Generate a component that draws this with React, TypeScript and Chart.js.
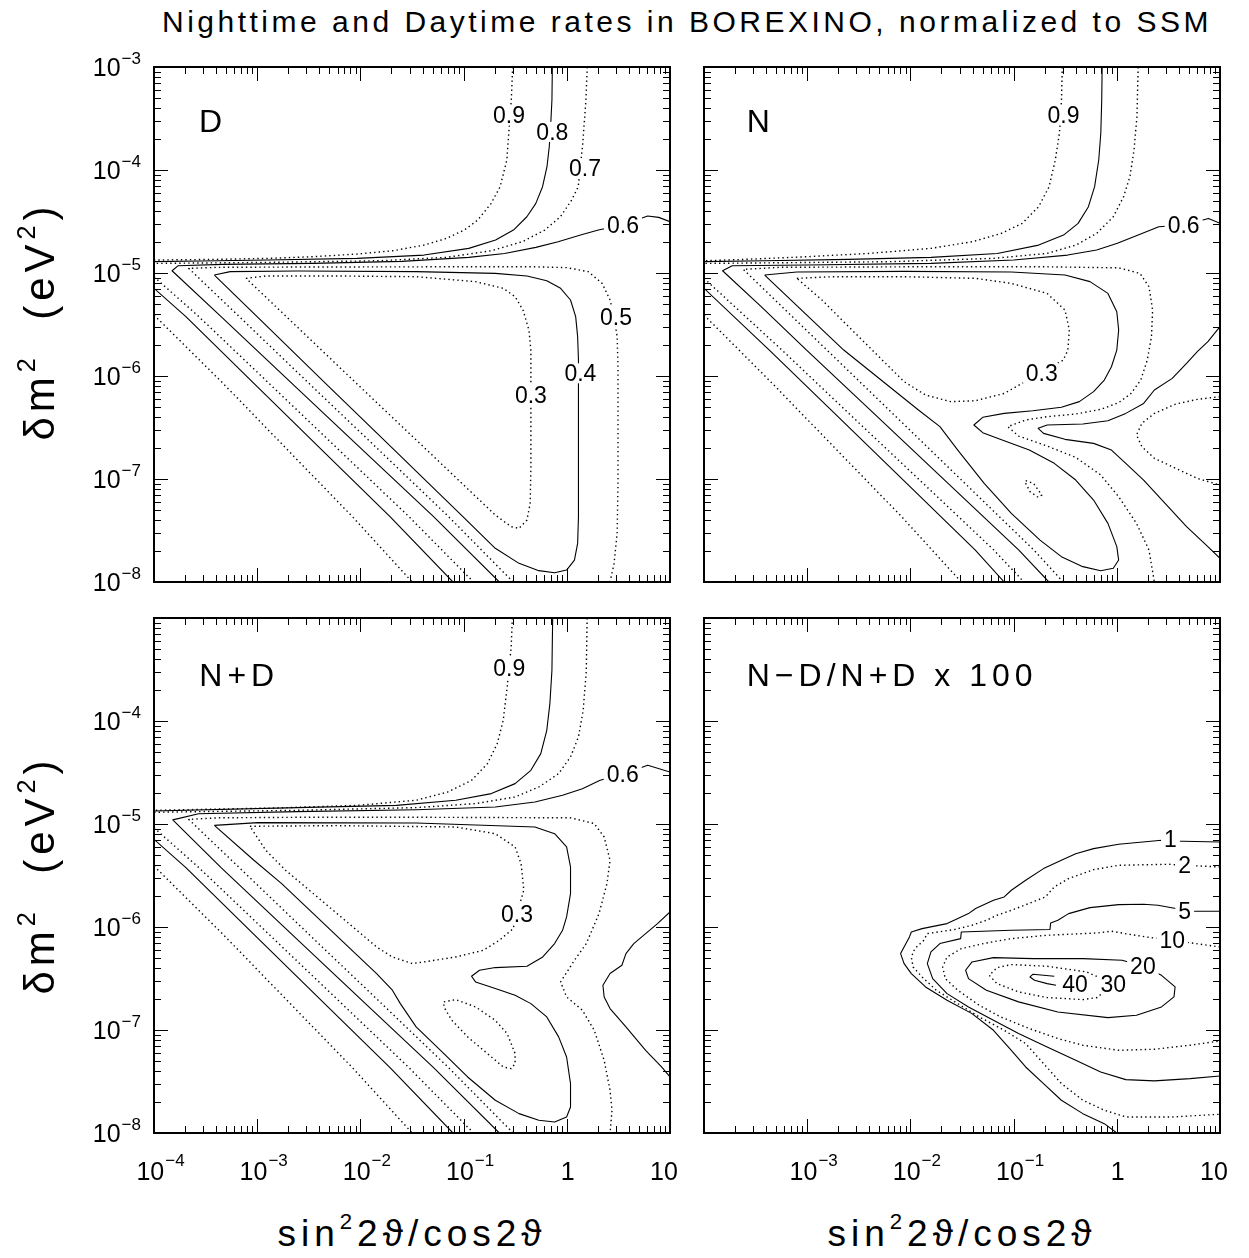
import React, { useEffect, useRef } from "react";
import { Chart, registerables } from "chart.js";

Chart.register(...registerables);

// Every point is [log10(sin^2 2θ / cos 2θ), log10(δm^2 / eV^2)]
type Pt = [number, number];

// ---------------- tick values (log10) ----------------
const X_TICKS_LEFT = [-4, -3, -2, -1, 0, 1];
const X_TICKS_RIGHT = [-3, -2, -1, 0, 1];
const Y_TICKS_TOP = [-3, -4, -5, -6, -7, -8];
const Y_TICKS_BOTTOM = [-4, -5, -6, -7, -8];

// ---------------- Panel D (daytime) ----------------
const D_UP_09: Pt[] = [[-0.525,-3.0],[-0.538,-3.321],[-0.560,-3.612],[-0.581,-3.903],[-0.646,-4.162],[-0.733,-4.324],[-0.863,-4.486],[-0.993,-4.583],[-1.166,-4.664],[-1.383,-4.729],[-1.686,-4.784],[-2.032,-4.816],[-2.465,-4.842],[-2.899,-4.858],[-3.418,-4.868],[-4.0,-4.874]];
const D_UP_08: Pt[] = [[-0.140,-3.0],[-0.144,-3.321],[-0.157,-3.580],[-0.170,-3.774],[-0.192,-3.968],[-0.235,-4.162],[-0.300,-4.324],[-0.387,-4.454],[-0.517,-4.583],[-0.690,-4.680],[-0.950,-4.761],[-1.383,-4.826],[-2.032,-4.858],[-2.899,-4.874],[-3.548,-4.884],[-4.0,-4.890]];
const D_UP_07: Pt[] = [[0.198,-3.0],[0.185,-3.321],[0.155,-3.742],[0.111,-4.162],[0.047,-4.292],[-0.062,-4.454],[-0.213,-4.583],[-0.430,-4.696],[-0.733,-4.784],[-1.166,-4.848],[-1.816,-4.881],[-2.899,-4.897],[-4.0,-4.907]];
const D_06: Pt[] = [[1.0,-4.502],[0.891,-4.460],[0.783,-4.447],[0.545,-4.534],[0.306,-4.583],[0.133,-4.631],[-0.084,-4.696],[-0.300,-4.751],[-0.603,-4.810],[-0.950,-4.848],[-1.599,-4.887],[-2.465,-4.907],[-3.332,-4.916],[-3.765,-4.929],[-3.825,-4.978],[-3.350,-5.424],[-2.664,-6.071],[-1.977,-6.719],[-1.291,-7.366],[-0.654,-8.0]];
const D_05: Pt[] = [[-0.520,-8.0],[-1.145,-7.366],[-1.820,-6.719],[-2.499,-6.071],[-3.173,-5.424],[-3.664,-4.955],[-3.377,-4.945],[-2.610,-4.942],[-1.344,-4.940],[-0.309,-4.940],[-0.002,-4.948],[0.208,-4.987],[0.343,-5.101],[0.419,-5.262],[0.458,-5.424],[0.488,-5.618],[0.496,-5.910],[0.496,-6.395],[0.496,-7.042],[0.488,-7.528],[0.458,-7.819],[0.419,-8.0]];
const D_04: Pt[] = [[-3.415,-5.020],[-3.262,-4.987],[-2.610,-4.981],[-1.460,-4.987],[-0.693,-5.004],[-0.386,-5.029],[-0.194,-5.075],[-0.060,-5.149],[0.036,-5.262],[0.086,-5.424],[0.105,-5.618],[0.113,-5.845],[0.113,-6.719],[0.113,-7.366],[0.105,-7.625],[0.074,-7.787],[-0.002,-7.884],[-0.118,-7.910],[-0.271,-7.890],[-0.463,-7.819],[-0.693,-7.673],[-1.007,-7.366],[-1.670,-6.719],[-2.338,-6.071],[-3.001,-5.424],[-3.415,-5.020]];
const D_03: Pt[] = [[-3.108,-5.052],[-2.917,-5.029],[-2.226,-5.029],[-1.460,-5.036],[-0.884,-5.084],[-0.616,-5.149],[-0.501,-5.230],[-0.424,-5.360],[-0.367,-5.554],[-0.348,-5.748],[-0.348,-6.395],[-0.348,-6.880],[-0.355,-7.237],[-0.386,-7.398],[-0.463,-7.479],[-0.539,-7.463],[-0.693,-7.350],[-1.356,-6.719],[-2.039,-6.071],[-2.717,-5.424],[-3.108,-5.052]];
const D_LO_07: Pt[] = [[-4.0,-5.036],[-3.565,-5.424],[-2.886,-6.071],[-2.207,-6.719],[-1.529,-7.366],[-0.904,-8.0]];
const D_LO_08: Pt[] = [[-4.0,-5.149],[-3.691,-5.424],[-3.032,-6.071],[-2.372,-6.719],[-1.713,-7.366],[-1.103,-8.0]];
const D_LO_09: Pt[] = [[-4.0,-5.408],[-3.331,-6.071],[-2.704,-6.719],[-2.077,-7.366],[-1.498,-8.0]];

// ---------------- Panel N (nighttime) ----------------
const N_UP_09: Pt[] = [[-0.528,-3.0],[-0.536,-3.321],[-0.556,-3.644],[-0.596,-3.903],[-0.656,-4.162],[-0.757,-4.356],[-0.917,-4.518],[-1.118,-4.615],[-1.399,-4.696],[-1.800,-4.761],[-2.403,-4.810],[-3.005,-4.842],[-3.607,-4.868],[-4.0,-4.881]];
const N_UP_08: Pt[] = [[-0.142,-3.0],[-0.146,-3.321],[-0.155,-3.644],[-0.175,-3.903],[-0.215,-4.162],[-0.275,-4.356],[-0.375,-4.518],[-0.516,-4.632],[-0.757,-4.729],[-1.158,-4.810],[-1.800,-4.848],[-2.603,-4.868],[-3.406,-4.881],[-4.0,-4.890]];
const N_UP_07: Pt[] = [[0.207,-3.0],[0.195,-3.483],[0.167,-3.806],[0.127,-4.065],[0.066,-4.259],[-0.034,-4.454],[-0.195,-4.615],[-0.395,-4.729],[-0.677,-4.810],[-1.198,-4.858],[-2.202,-4.890],[-3.206,-4.900],[-4.0,-4.907]];
const N_06A: Pt[] = [[1.0,-4.518],[0.889,-4.470],[0.648,-4.534],[0.407,-4.551],[0.207,-4.632],[0.006,-4.712],[-0.195,-4.777],[-0.476,-4.826],[-0.998,-4.874],[-1.800,-4.907],[-3.005,-4.923],[-3.727,-4.929],[-3.820,-4.978],[-3.446,-5.327],[-3.006,-5.748],[-2.321,-6.395],[-1.635,-7.042],[-0.949,-7.690],[-0.658,-8.0]];
const N_06B: Pt[] = [[1.0,-5.521],[0.883,-5.667],[0.780,-5.764],[0.676,-5.877],[0.537,-6.023],[0.364,-6.136],[0.260,-6.266],[0.087,-6.363],[-0.086,-6.434],[-0.329,-6.466],[-0.675,-6.476],[-0.762,-6.508],[-0.710,-6.557],[-0.502,-6.615],[-0.225,-6.654],[-0.052,-6.719],[0.087,-6.848],[0.260,-7.010],[0.468,-7.237],[0.676,-7.463],[0.849,-7.625],[1.0,-7.770]];
const N_07B: Pt[] = [[1.0,-6.201],[0.780,-6.227],[0.572,-6.272],[0.364,-6.363],[0.243,-6.460],[0.191,-6.573],[0.243,-6.686],[0.364,-6.799],[0.572,-6.897],[0.780,-6.994],[1.0,-7.059]];
const N_05: Pt[] = [[-0.519,-8.0],[-0.803,-7.690],[-1.472,-7.042],[-2.140,-6.395],[-2.809,-5.748],[-3.619,-4.965],[-3.273,-4.945],[-2.061,-4.940],[-0.675,-4.940],[0.018,-4.950],[0.225,-5.004],[0.312,-5.133],[0.347,-5.360],[0.336,-5.618],[0.295,-5.845],[0.232,-6.039],[0.139,-6.169],[0.018,-6.259],[-0.156,-6.324],[-0.398,-6.369],[-0.675,-6.395],[-0.883,-6.427],[-1.056,-6.492],[-0.952,-6.583],[-0.675,-6.680],[-0.398,-6.790],[-0.156,-6.961],[0.018,-7.172],[0.191,-7.431],[0.312,-7.690],[0.364,-8.0]];
const N_04: Pt[] = [[-3.412,-5.020],[-3.100,-4.991],[-2.061,-4.984],[-1.022,-4.991],[-0.502,-5.020],[-0.260,-5.084],[-0.086,-5.198],[0.0,-5.376],[0.018,-5.554],[0.0,-5.748],[-0.052,-5.910],[-0.121,-6.039],[-0.225,-6.152],[-0.363,-6.249],[-0.537,-6.304],[-0.814,-6.337],[-1.091,-6.363],[-1.299,-6.401],[-1.385,-6.476],[-1.299,-6.550],[-1.091,-6.628],[-0.848,-6.719],[-0.606,-6.848],[-0.398,-7.010],[-0.225,-7.204],[-0.086,-7.431],[0.0,-7.657],[0.018,-7.787],[-0.034,-7.867],[-0.156,-7.890],[-0.329,-7.851],[-0.537,-7.754],[-0.744,-7.593],[-1.022,-7.334],[-1.285,-7.042],[-1.541,-6.719],[-1.714,-6.492],[-1.922,-6.330],[-2.646,-5.748],[-3.412,-5.020]];
const N_03: Pt[] = [[-3.100,-5.052],[-2.753,-5.036],[-2.061,-5.036],[-1.368,-5.052],[-1.022,-5.101],[-0.675,-5.198],[-0.502,-5.360],[-0.460,-5.554],[-0.474,-5.748],[-0.519,-5.845],[-0.727,-5.974],[-0.918,-6.071],[-1.091,-6.169],[-1.368,-6.240],[-1.610,-6.249],[-1.853,-6.185],[-2.061,-6.055],[-2.338,-5.780],[-2.615,-5.505],[-2.857,-5.262],[-3.100,-5.052]];
const N_03B: Pt[] = [[-0.883,-7.016],[-0.807,-7.042],[-0.727,-7.156],[-0.762,-7.178],[-0.841,-7.123],[-0.883,-7.042],[-0.883,-7.016]];
const N_LO_07: Pt[] = [[-4.0,-5.052],[-3.245,-5.748],[-2.563,-6.395],[-1.877,-7.042],[-1.191,-7.690],[-0.900,-8.0]];
const N_LO_08: Pt[] = [[-4.0,-5.149],[-3.367,-5.748],[-2.702,-6.395],[-2.036,-7.042],[-1.371,-7.690],[-1.091,-8.0]];
const N_LO_09: Pt[] = [[-4.0,-5.408],[-3.339,-6.071],[-2.712,-6.719],[-2.085,-7.366],[-1.507,-8.0]];

// ---------------- Panel N+D ----------------
const ND_UP_09: Pt[] = [[-0.528,-3.0],[-0.539,-3.281],[-0.578,-3.670],[-0.616,-3.993],[-0.674,-4.220],[-0.769,-4.414],[-0.923,-4.576],[-1.153,-4.689],[-1.460,-4.770],[-2.035,-4.819],[-2.802,-4.844],[-4.0,-4.867]];
const ND_UP_08: Pt[] = [[-0.137,-3.0],[-0.144,-3.508],[-0.164,-3.831],[-0.194,-4.090],[-0.252,-4.317],[-0.348,-4.479],[-0.501,-4.608],[-0.731,-4.705],[-1.076,-4.770],[-1.651,-4.819],[-2.610,-4.841],[-4.0,-4.874]];
const ND_UP_07: Pt[] = [[0.197,-3.0],[0.189,-3.508],[0.159,-3.896],[0.113,-4.155],[0.036,-4.349],[-0.079,-4.511],[-0.271,-4.641],[-0.501,-4.738],[-0.884,-4.802],[-1.460,-4.841],[-2.610,-4.867],[-4.0,-4.886]];
const ND_06A: Pt[] = [[1.0,-4.495],[0.784,-4.430],[0.542,-4.518],[0.323,-4.576],[0.151,-4.657],[-0.041,-4.721],[-0.309,-4.786],[-0.693,-4.835],[-1.460,-4.861],[-2.610,-4.880],[-3.568,-4.900],[-3.818,-4.960],[-3.350,-5.424],[-2.664,-6.071],[-1.977,-6.719],[-1.291,-7.366],[-0.654,-8.0]];
const ND_06B: Pt[] = [[1.0,-5.854],[0.879,-5.967],[0.764,-6.064],[0.649,-6.161],[0.573,-6.258],[0.534,-6.371],[0.419,-6.452],[0.350,-6.566],[0.362,-6.679],[0.419,-6.792],[0.573,-6.970],[0.764,-7.197],[0.918,-7.359],[1.0,-7.456]];
const ND_05: Pt[] = [[-0.520,-8.0],[-1.145,-7.366],[-1.820,-6.719],[-2.499,-6.071],[-3.173,-5.424],[-3.664,-4.955],[-3.377,-4.940],[-2.610,-4.935],[-1.344,-4.935],[0.036,-4.940],[0.266,-4.996],[0.362,-5.126],[0.419,-5.353],[0.389,-5.579],[0.312,-5.870],[0.189,-6.161],[0.074,-6.323],[-0.060,-6.533],[-0.002,-6.679],[0.151,-6.808],[0.266,-7.003],[0.362,-7.294],[0.419,-7.585],[0.438,-7.779],[0.419,-8.0]];
const ND_04: Pt[] = [[-3.415,-5.013],[-2.993,-4.987],[-1.460,-4.990],[-0.309,-5.029],[-0.118,-5.094],[-0.002,-5.223],[0.036,-5.417],[0.036,-5.676],[-0.002,-5.902],[-0.041,-6.032],[-0.118,-6.161],[-0.233,-6.291],[-0.386,-6.381],[-0.693,-6.394],[-0.846,-6.420],[-0.923,-6.478],[-0.884,-6.533],[-0.693,-6.598],[-0.501,-6.663],[-0.348,-6.744],[-0.194,-6.873],[-0.079,-7.067],[-0.002,-7.262],[0.036,-7.520],[0.036,-7.747],[-0.002,-7.844],[-0.118,-7.893],[-0.271,-7.876],[-0.463,-7.812],[-0.693,-7.682],[-0.961,-7.456],[-1.191,-7.229],[-1.460,-6.970],[-1.613,-6.744],[-1.690,-6.614],[-1.843,-6.452],[-2.150,-6.161],[-2.456,-5.870],[-2.763,-5.579],[-3.032,-5.352],[-3.415,-5.013]];
const ND_03: Pt[] = [[-3.070,-5.022],[-2.226,-5.016],[-1.076,-5.029],[-0.693,-5.094],[-0.501,-5.223],[-0.443,-5.385],[-0.417,-5.643],[-0.482,-5.870],[-0.520,-6.016],[-0.654,-6.129],[-0.808,-6.226],[-1.076,-6.291],[-1.383,-6.339],[-1.498,-6.355],[-1.690,-6.291],[-1.843,-6.194],[-2.073,-5.999],[-2.303,-5.805],[-2.533,-5.611],[-2.725,-5.449],[-2.917,-5.255],[-3.070,-5.022]];
const ND_03B: Pt[] = [[-1.191,-6.727],[-1.076,-6.705],[-0.884,-6.776],[-0.693,-6.906],[-0.578,-7.035],[-0.501,-7.229],[-0.501,-7.326],[-0.539,-7.375],[-0.616,-7.359],[-0.769,-7.229],[-0.961,-7.067],[-1.114,-6.906],[-1.191,-6.776],[-1.191,-6.727]];
const ND_LO_07: Pt[] = [[-4.0,-5.036],[-3.565,-5.424],[-2.886,-6.071],[-2.207,-6.719],[-1.529,-7.366],[-0.904,-8.0]];
const ND_LO_08: Pt[] = [[-4.0,-5.149],[-3.691,-5.424],[-3.032,-6.071],[-2.372,-6.719],[-1.713,-7.366],[-1.103,-8.0]];
const ND_LO_09: Pt[] = [[-4.0,-5.408],[-3.331,-6.071],[-2.704,-6.719],[-2.077,-7.366],[-1.498,-8.0]];

// ---------------- Panel (N-D)/(N+D) x 100 ----------------
const A_01: Pt[] = [[1.0,-5.175],[0.520,-5.165],[0.433,-5.158],[0.018,-5.197],[-0.225,-5.239],[-0.398,-5.288],[-0.537,-5.353],[-0.710,-5.433],[-0.883,-5.546],[-1.022,-5.643],[-1.091,-5.708],[-1.195,-5.740],[-1.368,-5.821],[-1.437,-5.870],[-1.576,-5.935],[-1.645,-5.967],[-1.887,-6.016],[-1.991,-6.048],[-2.009,-6.096],[-2.043,-6.161],[-2.095,-6.258],[-2.061,-6.355],[-1.991,-6.452],[-1.853,-6.582],[-1.645,-6.711],[-1.403,-6.841],[-1.195,-7.003],[-1.022,-7.197],[-0.883,-7.359],[-0.710,-7.520],[-0.537,-7.682],[-0.329,-7.812],[-0.121,-7.909],[0.0,-8.0]];
const A_02: Pt[] = [[1.0,-5.417],[0.658,-5.401],[0.503,-5.391],[0.018,-5.401],[-0.225,-5.443],[-0.467,-5.530],[-0.606,-5.611],[-0.692,-5.708],[-0.814,-5.757],[-1.022,-5.838],[-1.160,-5.886],[-1.264,-5.935],[-1.403,-5.983],[-1.576,-6.025],[-1.836,-6.064],[-1.870,-6.129],[-1.957,-6.210],[-1.991,-6.291],[-1.974,-6.388],[-1.887,-6.485],[-1.749,-6.614],[-1.541,-6.744],[-1.333,-6.873],[-1.091,-7.003],[-0.883,-7.132],[-0.710,-7.326],[-0.537,-7.520],[-0.329,-7.682],[-0.121,-7.779],[0.087,-7.844],[0.537,-7.844],[1.0,-7.818]];
const A_05: Pt[] = [[1.0,-5.847],[0.658,-5.847],[0.572,-5.821],[0.399,-5.789],[0.260,-5.779],[0.018,-5.783],[-0.260,-5.812],[-0.467,-5.870],[-0.571,-5.935],[-0.641,-5.961],[-0.648,-6.025],[-1.022,-6.032],[-1.507,-6.048],[-1.513,-6.113],[-1.714,-6.161],[-1.801,-6.242],[-1.836,-6.355],[-1.784,-6.501],[-1.645,-6.647],[-1.437,-6.776],[-1.195,-6.906],[-0.952,-7.035],[-0.675,-7.164],[-0.398,-7.294],[-0.156,-7.407],[0.087,-7.482],[0.364,-7.494],[0.710,-7.472],[1.0,-7.446]];
const A_10: Pt[] = [[1.0,-6.194],[0.537,-6.129],[0.329,-6.103],[0.121,-6.071],[-0.052,-6.041],[-0.190,-6.058],[-0.675,-6.080],[-1.022,-6.113],[-1.264,-6.155],[-1.507,-6.210],[-1.645,-6.291],[-1.687,-6.388],[-1.662,-6.501],[-1.541,-6.614],[-1.333,-6.760],[-1.126,-6.873],[-0.848,-6.986],[-0.571,-7.083],[-0.329,-7.148],[0.018,-7.197],[0.364,-7.187],[0.710,-7.148],[1.0,-7.106]];
const A_20: Pt[] = [[0.253,-6.381],[0.052,-6.323],[-0.329,-6.307],[-0.814,-6.307],[-1.195,-6.297],[-1.403,-6.339],[-1.465,-6.420],[-1.437,-6.501],[-1.264,-6.614],[-0.952,-6.727],[-0.571,-6.825],[-0.086,-6.880],[0.191,-6.857],[0.433,-6.776],[0.554,-6.679],[0.565,-6.582],[0.433,-6.469],[0.253,-6.381]];
const A_30: Pt[] = [[-0.034,-6.550],[-0.294,-6.436],[-0.675,-6.381],[-1.022,-6.365],[-1.160,-6.394],[-1.236,-6.469],[-1.160,-6.550],[-0.952,-6.630],[-0.675,-6.685],[-0.329,-6.705],[-0.190,-6.685],[-0.034,-6.550]];
const A_40: Pt[] = [[-0.589,-6.566],[-0.675,-6.550],[-0.797,-6.517],[-0.841,-6.485],[-0.814,-6.459],[-0.606,-6.478]];

// ---------------- contour value labels ----------------
const D_LABELS = [
  { text: "0.9", at: [-0.56, -3.47] }, { text: "0.8", at: [-0.14, -3.63] },
  { text: "0.7", at: [0.177, -3.984] }, { text: "0.6", at: [0.545, -4.534] },
  { text: "0.5", at: [0.477, -5.424] }, { text: "0.4", at: [0.132, -5.974] },
  { text: "0.3", at: [-0.348, -6.185] },
];
const N_LABELS = [
  { text: "0.9", at: [-0.516, -3.467] }, { text: "0.6", at: [0.648, -4.534] },
  { text: "0.3", at: [-0.727, -5.974] },
];
const ND_LABELS = [
  { text: "0.9", at: [-0.558, -3.485] }, { text: "0.6", at: [0.542, -4.518] },
  { text: "0.3", at: [-0.482, -5.870] },
];
const A_LABELS = [
  { text: "1", at: [0.52, -5.15] }, { text: "2", at: [0.658, -5.401] },
  { text: "5", at: [0.658, -5.847] }, { text: "10", at: [0.537, -6.129] },
  { text: "20", at: [0.253, -6.381] }, { text: "30", at: [-0.034, -6.55] },
  { text: "40", at: [-0.405, -6.55] },
];

// ---------------- layout / style ----------------
const PANEL_W = 516;
const PANEL_H = 515;
const NUM_FONT = '"Liberation Sans", Arial, "DejaVu Sans", sans-serif';

const framePlugin = {
  id: "frame",
  afterDatasetsDraw(chart: any, _args: any, opts: any) {
    const ctx = chart.ctx as CanvasRenderingContext2D;
    const a = chart.chartArea;
    const xs = chart.scales.x;
    const ys = chart.scales.y;
    const X = (v: number) => xs.getPixelForValue(Math.pow(10, v));
    const Y = (v: number) => ys.getPixelForValue(Math.pow(10, v));
    const anyCtx = ctx as any;
    ctx.save();

    // contour value labels
    ctx.font = `23px ${NUM_FONT}`;
    ctx.textAlign = "center";
    ctx.textBaseline = "alphabetic";
    for (const l of opts.labels) {
      const px = X(l.at[0]);
      const py = Y(l.at[1]);
      const w = ctx.measureText(l.text).width;
      ctx.fillStyle = "#fff";
      ctx.fillRect(px - w / 2 - 3, py - 10, w + 6, 20);
      ctx.fillStyle = "#000";
      ctx.fillText(l.text, px, py + 8);
    }

    // panel title
    ctx.font = `32px ${NUM_FONT}`;
    ctx.textAlign = "left";
    anyCtx.letterSpacing = "5px";
    ctx.fillText(opts.title, X(opts.titleAt[0]), Y(opts.titleAt[1]));
    anyCtx.letterSpacing = "0px";

    // frame
    ctx.strokeStyle = "#000";
    ctx.lineWidth = 2;
    ctx.strokeRect(a.left, a.top, a.right - a.left, a.bottom - a.top);

    // ticks, inward on all four sides
    ctx.lineWidth = 1;
    ctx.beginPath();
    for (let d = -4; d <= 0; d++) {
      for (let m = 1; m <= 9; m++) {
        const v = d + Math.log10(m);
        if (v <= -4 + 1e-9) continue;
        const px = Math.round(X(v)) + 0.5;
        const len = m === 1 ? 14 : 7;
        ctx.moveTo(px, a.bottom); ctx.lineTo(px, a.bottom - len);
        ctx.moveTo(px, a.top); ctx.lineTo(px, a.top + len);
      }
    }
    for (let d = -8; d <= -4; d++) {
      for (let m = 1; m <= 9; m++) {
        const v = d + Math.log10(m);
        if (v <= -8 + 1e-9) continue;
        const py = Math.round(Y(v)) + 0.5;
        const len = m === 1 ? 14 : 7;
        ctx.moveTo(a.left, py); ctx.lineTo(a.left + len, py);
        ctx.moveTo(a.right, py); ctx.lineTo(a.right - len, py);
      }
    }
    ctx.stroke();

    // tick labels
    const main = `25px ${NUM_FONT}`;
    const sup = `17px ${NUM_FONT}`;
    ctx.fillStyle = "#000";
    ctx.textAlign = "left";
    if (opts.xTicks) {
      for (const v of opts.xTicks) {
        const px = X(v);
        const base = a.bottom + 47;
        ctx.font = main;
        if (v === 0 || v === 1) {
          const t = v === 0 ? "1" : "10";
          const w = ctx.measureText(t).width;
          const c = v === 0 ? px + 1 : px - 6;
          ctx.fillText(t, c - w / 2, base);
        } else {
          const wm = ctx.measureText("10").width;
          ctx.font = sup;
          const st = "\u2212" + Math.abs(v);
          const ws = ctx.measureText(st).width;
          const x0 = px + 6 - (wm + ws) / 2;
          ctx.font = main;
          ctx.fillText("10", x0, base);
          ctx.font = sup;
          ctx.fillText(st, x0 + wm + 1, base - 14);
        }
      }
    }
    if (opts.yTicks) {
      for (const v of opts.yTicks) {
        const py = Y(v);
        const base = py + 9;
        ctx.font = main;
        const wm = ctx.measureText("10").width;
        ctx.font = sup;
        const st = "\u2212" + Math.abs(v);
        const ws = ctx.measureText(st).width;
        const x0 = a.left - 13 - ws - wm - 1;
        ctx.font = main;
        ctx.fillText("10", x0, base);
        ctx.font = sup;
        ctx.fillText(st, x0 + wm + 1, base - 12);
      }
    }
    ctx.restore();
  },
};

type Contour = { pts: Pt[]; dotted: boolean };
type PanelProps = {
  left: number; top: number;
  pad: { left: number; right: number; top: number; bottom: number };
  contours: Contour[];
  labels: { text: string; at: number[] }[];
  title: string; titleAt: number[];
  xTicks?: number[]; yTicks?: number[];
};

function Panel(p: PanelProps) {
  const ref = useRef<HTMLCanvasElement>(null);
  useEffect(() => {
    const canvas = ref.current;
    if (!canvas) return;
    const chart = new Chart(canvas, {
      type: "scatter",
      data: {
        datasets: p.contours.map((c) => ({
          data: c.pts.map(([a, b]) => ({ x: Math.pow(10, a), y: Math.pow(10, b) })),
          showLine: true,
          borderColor: "#000",
          borderWidth: c.dotted ? 1.4 : 1.1,
          borderDash: c.dotted ? [1.4, 3.1] : [],
          borderCapStyle: "butt",
          borderJoinStyle: "round",
          pointRadius: 0,
          pointHoverRadius: 0,
          fill: false,
          tension: 0,
        })),
      },
      options: {
        responsive: false,
        animation: false,
        events: [],
        layout: { padding: p.pad },
        scales: {
          x: { type: "logarithmic", min: 1e-4, max: 10, display: false },
          y: { type: "logarithmic", min: 1e-8, max: 1e-3, display: false },
        },
        plugins: {
          legend: { display: false },
          tooltip: { enabled: false },
          frame: { labels: p.labels, title: p.title, titleAt: p.titleAt, xTicks: p.xTicks, yTicks: p.yTicks },
        } as any,
      },
      plugins: [framePlugin],
    } as any);
    return () => chart.destroy();
  }, []);
  const w = PANEL_W + p.pad.left + p.pad.right;
  const h = PANEL_H + p.pad.top + p.pad.bottom;
  return (
    <canvas
      ref={ref}
      width={w}
      height={h}
      style={{ position: "absolute", left: p.left - p.pad.left, top: p.top - p.pad.top, width: w, height: h }}
    />
  );
}

const S = (c: Pt[]): Contour => ({ pts: c, dotted: false });
const Dt = (c: Pt[]): Contour => ({ pts: c, dotted: true });

const supStyle: React.CSSProperties = { fontSize: "0.6em", verticalAlign: "0.75em", lineHeight: 0 };

function YTitle({ cy }: { cy: number }) {
  return (
    <div
      style={{
        position: "absolute", left: 41 - 200, top: cy - 25, width: 400, height: 50,
        lineHeight: "50px", textAlign: "center", transform: "rotate(-90deg)",
        font: `42px ${NUM_FONT}`, letterSpacing: "5px", whiteSpace: "nowrap",
      }}
    >
      δm<span style={supStyle}>2</span>{"\u00a0\u00a0"}(eV<span style={supStyle}>2</span>)
    </div>
  );
}

function XTitle({ cx }: { cx: number }) {
  return (
    <div
      style={{
        position: "absolute", left: cx - 200, top: 1213, width: 400, height: 44,
        lineHeight: "44px", textAlign: "center",
        font: `37px ${NUM_FONT}`, letterSpacing: "5px", whiteSpace: "nowrap",
      }}
    >
      sin<span style={supStyle}>2</span>2ϑ/cos2ϑ
    </div>
  );
}

export default function App() {
  const padTL = { left: 100, right: 12, top: 30, bottom: 12 };
  const padTR = { left: 12, right: 20, top: 30, bottom: 12 };
  const padBL = { left: 100, right: 12, top: 12, bottom: 70 };
  const padBR = { left: 12, right: 20, top: 12, bottom: 70 };
  return (
    <div style={{ position: "absolute", left: 0, top: 0, width: 1249, height: 1258, background: "#fff", overflow: "hidden" }}>
      <div
        style={{
          position: "absolute", left: 137, top: 4, width: 1100, textAlign: "center",
          font: `30px ${NUM_FONT}`, letterSpacing: "3.5px", lineHeight: "36px", whiteSpace: "nowrap",
        }}
      >
        Nighttime and Daytime rates in BOREXINO, normalized to SSM
      </div>

      <Panel
        left={154} top={67} pad={padTL}
        contours={[Dt(D_UP_09), S(D_UP_08), Dt(D_UP_07), S(D_06), Dt(D_05), S(D_04), Dt(D_03), Dt(D_LO_07), S(D_LO_08), Dt(D_LO_09)]}
        labels={D_LABELS} title="D" titleAt={[-3.564, -3.631]} yTicks={Y_TICKS_TOP}
      />
      <Panel
        left={704} top={67} pad={padTR}
        contours={[Dt(N_UP_09), S(N_UP_08), Dt(N_UP_07), S(N_06A), S(N_06B), Dt(N_07B), Dt(N_05), S(N_04), Dt(N_03), Dt(N_03B), Dt(N_LO_07), S(N_LO_08), Dt(N_LO_09)]}
        labels={N_LABELS} title="N" titleAt={[-3.586, -3.631]}
      />
      <Panel
        left={154} top={618} pad={padBL}
        contours={[Dt(ND_UP_09), S(ND_UP_08), Dt(ND_UP_07), S(ND_06A), S(ND_06B), Dt(ND_05), S(ND_04), Dt(ND_03), Dt(ND_03B), Dt(ND_LO_07), S(ND_LO_08), Dt(ND_LO_09)]}
        labels={ND_LABELS} title="N+D" titleAt={[-3.561, -3.663]} xTicks={X_TICKS_LEFT} yTicks={Y_TICKS_BOTTOM}
      />
      <Panel
        left={704} top={618} pad={padBR}
        contours={[S(A_01), Dt(A_02), S(A_05), Dt(A_10), S(A_20), Dt(A_30), S(A_40)]}
        labels={A_LABELS} title={"N\u2212D/N+D x 100"} titleAt={[-3.586, -3.663]} xTicks={X_TICKS_RIGHT}
      />

      <YTitle cy={321} />
      <YTitle cy={875} />
      <XTitle cx={412} />
      <XTitle cx={962} />
    </div>
  );
}
